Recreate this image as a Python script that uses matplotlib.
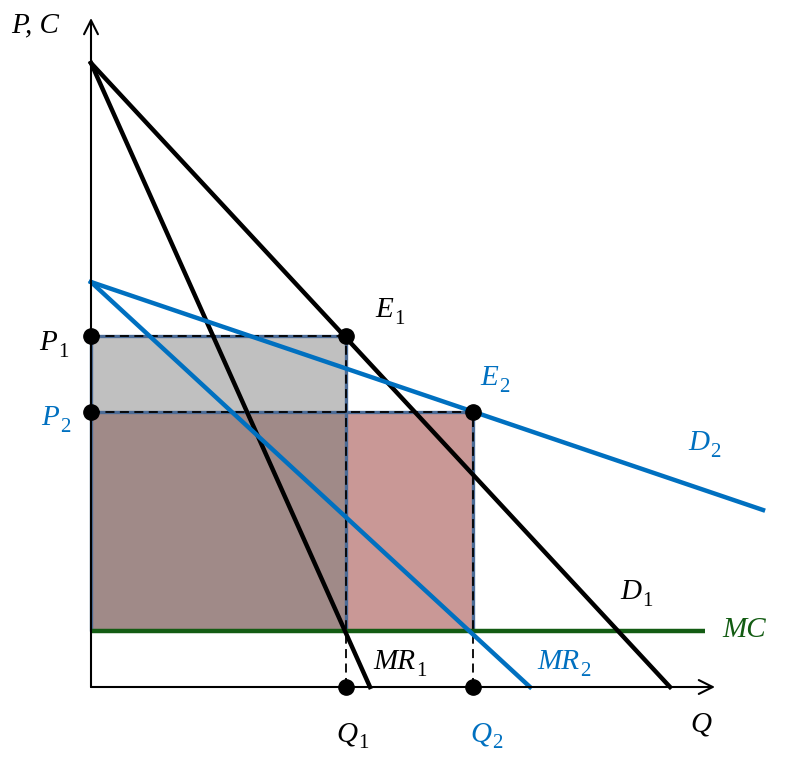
import matplotlib
matplotlib.use("Agg")
import matplotlib.pyplot as plt
from matplotlib.patches import Rectangle
from matplotlib.transforms import offset_copy

plt.rcParams['font.family'] = ['Liberation Serif', 'DejaVu Serif']

# ---- data (arbitrary units) ----
d1_intercept_p = 624      # price intercept of D1 / MR1
d1_intercept_q = 579      # quantity intercept of D1
mr1_intercept_q = 279     # quantity intercept of MR1
d2_intercept_p = 405      # price intercept of D2 / MR2
d2_end = (672, 177)       # end point of drawn D2 segment
mr2_intercept_q = 439     # quantity intercept of MR2
mc_level = 56
mc_end_q = 614
q_points = [255, 382]     # Q1, Q2
p_points = [351, 275]     # P1, P2

BLUE = '#0070C0'
GREEN = '#135c13'
EDGE = '#4b6b96'

fig = plt.figure(figsize=(7.92, 7.68), dpi=100)
ax = fig.add_axes([0, 0, 1, 1])
ax.set_xlim(-91, 701)
ax.set_ylim(-81, 687)
ax.axis('off')

Q1, Q2 = q_points
P1, P2 = p_points

# fills
ax.add_patch(Rectangle((0, P2), Q1, P1 - P2, facecolor='#c0c0c0', edgecolor='none', zorder=1))
ax.add_patch(Rectangle((0, mc_level), Q1, P2 - mc_level, facecolor='#a08a88', edgecolor='none', zorder=1))
ax.add_patch(Rectangle((Q1, mc_level), Q2 - Q1, P2 - mc_level, facecolor='#c99896', edgecolor='none', zorder=1))

# rectangle borders
bord = dict(color=EDGE, lw=2.4, zorder=2, solid_capstyle='butt')
ax.plot([0, Q1], [P1, P1], **bord)
ax.plot([0, Q2], [P2, P2], **bord)
ax.plot([Q1, Q1], [mc_level, P1], **bord)
ax.plot([Q2, Q2], [mc_level, P2], **bord)
ax.plot([0, 0], [mc_level, P1], **bord)
dash = dict(color='black', lw=1.3, ls=(0, (5, 3)), zorder=3)
ax.plot([0, Q1], [P1, P1], **dash)
ax.plot([0, Q2], [P2, P2], **dash)
ax.plot([Q1, Q1], [0, P1], **dash)
ax.plot([Q2, Q2], [0, P2], **dash)

# MC
ax.plot([0, mc_end_q], [mc_level, mc_level], color=GREEN, lw=3.2, zorder=4, solid_capstyle='butt')

# demand / MR curves
ax.plot([0, d1_intercept_q], [d1_intercept_p, 0], color='black', lw=3.2, zorder=5)
ax.plot([0, mr1_intercept_q], [d1_intercept_p, 0], color='black', lw=3.2, zorder=5)
ax.plot([0, d2_end[0]], [d2_intercept_p, d2_end[1]], color=BLUE, lw=3.2, zorder=5)
ax.plot([0, mr2_intercept_q], [d2_intercept_p, 0], color=BLUE, lw=3.2, zorder=5)

# axes with open arrowheads
arr = dict(arrowstyle='->,head_length=1.0,head_width=0.5', lw=1.5, color='black', shrinkA=0, shrinkB=0)
ax.annotate('', xy=(0, 669), xytext=(0, 0), arrowprops=arr, zorder=6)
ax.annotate('', xy=(624, 0), xytext=(0, 0), arrowprops=arr, zorder=6)

# points
ms = 11
ax.plot([0, 0], [P1, P2], 'o', color='black', ms=ms, zorder=7)
ax.plot([Q1, Q2], [P1, P2], 'o', color='black', ms=ms, zorder=7)
ax.plot([Q1, Q2], [0, 0], 'o', color='black', ms=ms, zorder=7)

fs = 21
fs_sub = 15
fig.canvas.draw()
renderer = fig.canvas.get_renderer()

def lab(x, y, main, sub=None, c='black'):
    t = ax.text(x, y, main, color=c, fontsize=fs, style='italic', ha='left',
                va='baseline', zorder=8)
    if sub is not None:
        bb = t.get_window_extent(renderer=renderer)
        xr, _ = ax.transData.inverted().transform((bb.x1, bb.y0))
        tr = offset_copy(ax.transData, fig=fig, x=1, y=-7, units='dots')
        ax.text(xr, y, sub, color=c, fontsize=fs_sub, ha='left', va='baseline',
                transform=tr, zorder=8)

lab(-80, 655, 'P, C')
lab(-52, 337, 'P', '1')
lab(-50, 262, 'P', '2', BLUE)
lab(284, 370, 'E', '1')
lab(389, 302, 'E', '2', BLUE)
lab(597, 237, 'D', '2', BLUE)
lab(529, 88, 'D', '1')
lab(631, 50, 'MC', None, GREEN)
lab(282, 18, 'MR', '1')
lab(446, 18, 'MR', '2', BLUE)
lab(245, -54, 'Q', '1')
lab(379, -54, 'Q', '2', BLUE)
lab(599, -45, 'Q')

fig.savefig('out.png', dpi=100)
